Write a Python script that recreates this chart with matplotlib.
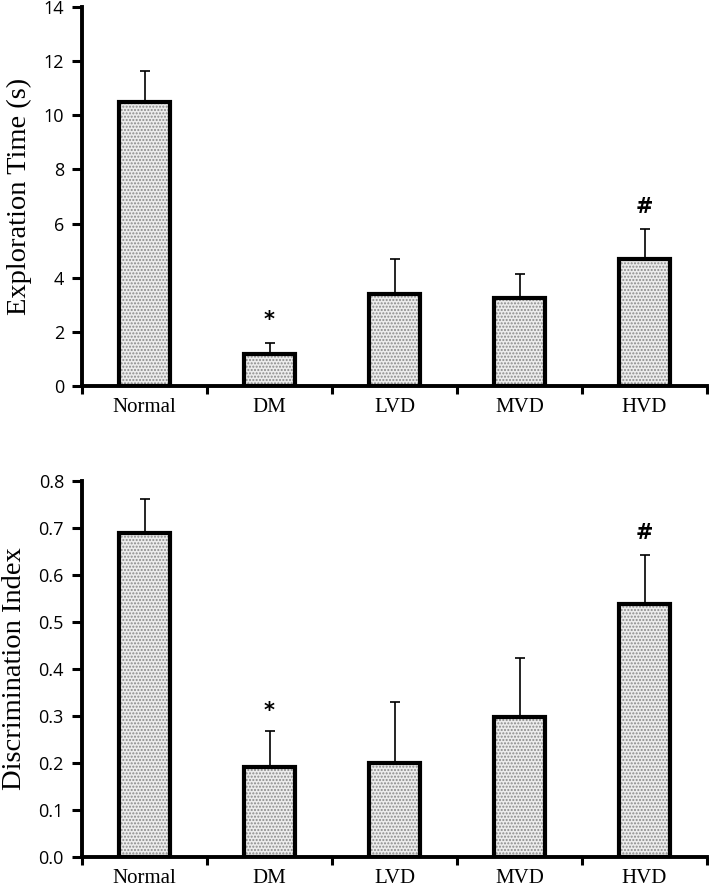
import matplotlib
matplotlib.use("Agg")
import matplotlib.pyplot as plt
import numpy as np

groups = ["Normal", "DM", "LVD", "MVD", "HVD"]
explore_mean = [10.5, 1.18, 3.40, 3.25, 4.69]
explore_err = [1.12, 0.41, 1.29, 0.89, 1.11]
explore_marks = ["", "*", "", "", "#"]
explore_mark_y = [None, 2.45, None, None, 6.6]

disc_mean = [0.69, 0.191, 0.200, 0.298, 0.538]
disc_err = [0.071, 0.078, 0.130, 0.126, 0.104]
disc_marks = ["", "*", "", "", "#"]
disc_mark_y = [None, 0.31, None, None, 0.69]

plt.rcParams['hatch.linewidth'] = 1.0
plt.rcParams['hatch.color'] = '#8a8a8a'

fig = plt.figure(figsize=(7.09, 8.90), dpi=100)
ax1 = fig.add_axes([0.1157, 0.5663, 0.8815, 0.4258])
ax2 = fig.add_axes([0.1157, 0.0371, 0.8815, 0.4225])

def draw(ax, means, errs, marks, mark_y, ylim, yticks, fmt, ylabel):
    x = np.arange(len(groups))
    w = 0.41
    ax.bar(x, means, width=w, color='#ececec', edgecolor='#8a8a8a', hatch='.....', linewidth=0, zorder=2)
    ax.bar(x, means, width=w, fill=False, edgecolor='black', linewidth=3.0, zorder=3)
    ax.errorbar(x, means, yerr=[np.zeros(len(errs)), errs], fmt='none', ecolor='black',
                elinewidth=1.2, capsize=3.5, capthick=1.2, zorder=1)
    for xi, m, my in zip(x, marks, mark_y):
        if m:
            ax.text(xi, my, m, ha='center', va='center', fontsize=15, fontweight='bold',
                    family='DejaVu Sans')
    ax.set_xlim(-0.5, len(groups) - 0.5)
    ax.set_ylim(*ylim)
    ax.set_yticks(yticks)
    ax.set_yticklabels([fmt.format(v) for v in yticks], family='Open Sans', fontsize=13)
    ax.set_xticks(np.arange(-0.5, len(groups)), labels=[''] * (len(groups) + 1))
    ax.set_xticks(x, labels=groups, minor=True)
    for lbl in ax.get_xticklabels(minor=True):
        lbl.set_family('Liberation Serif')
        lbl.set_fontsize(15)
    ax.tick_params(axis='x', which='major', direction='out', length=6, width=2.2)
    ax.tick_params(axis='x', which='minor', length=0, pad=9)
    ax.tick_params(axis='y', direction='out', length=7, width=2.2, pad=6)
    for s in ['top', 'right']:
        ax.spines[s].set_visible(False)
    for s in ['left', 'bottom']:
        ax.spines[s].set_linewidth(2.8)
    ax.set_ylabel(ylabel, family='Liberation Serif', fontsize=20.5, labelpad=8)

draw(ax1, explore_mean, explore_err, explore_marks, explore_mark_y, (0, 14),
     [0, 2, 4, 6, 8, 10, 12, 14], "{:g}", "Exploration Time (s)")
draw(ax2, disc_mean, disc_err, disc_marks, disc_mark_y, (0, 0.8),
     [0.0, 0.1, 0.2, 0.3, 0.4, 0.5, 0.6, 0.7, 0.8], "{:.1f}", "Discrimination Index")

fig.savefig("out.png", dpi=100)
